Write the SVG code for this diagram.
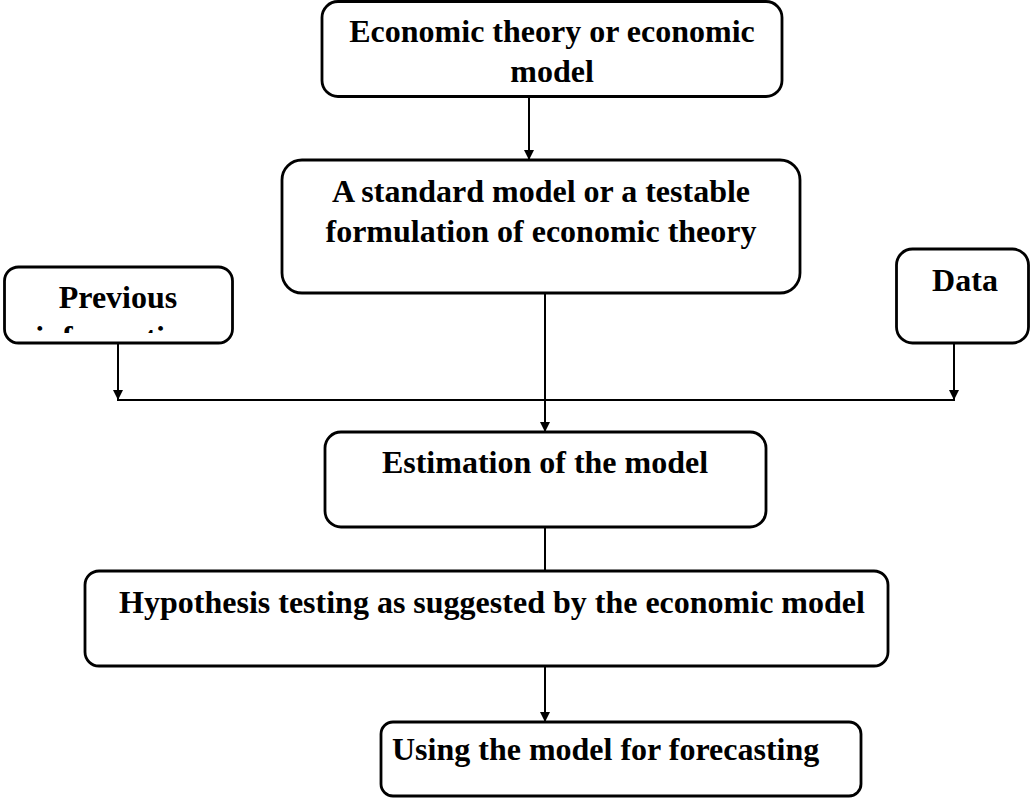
<svg xmlns="http://www.w3.org/2000/svg" width="1030" height="798" viewBox="0 0 1030 798">
<style>
.box{fill:#fff;stroke:#000;stroke-width:2.8}
.t{font-family:"Liberation Serif","Times New Roman",serif;font-weight:bold;font-size:32px;fill:#000}
.c{fill:none;stroke:#000;stroke-width:2}
</style>
<defs>
<marker id="ah" viewBox="0 0 10 10" refX="10" refY="5" markerWidth="10" markerHeight="10" markerUnits="userSpaceOnUse" orient="auto">
<path d="M0,0 L10,5 L0,10 Z" fill="#000"/>
</marker>
<clipPath id="clipPrev"><rect x="4" y="267" width="228" height="66"/></clipPath>
</defs>
<rect width="1030" height="798" fill="#fff"/>
<g id="connectors">
<line class="c" x1="529" y1="97" x2="529" y2="160" marker-end="url(#ah)"/>
<line class="c" x1="545" y1="293" x2="545" y2="432" marker-end="url(#ah)"/>
<line class="c" x1="118" y1="343" x2="118" y2="400" marker-end="url(#ah)"/>
<line class="c" x1="954" y1="343" x2="954" y2="400" marker-end="url(#ah)"/>
<line class="c" x1="117" y1="400" x2="955" y2="400" stroke-width="2.5"/>
<line class="c" x1="545" y1="527" x2="545" y2="571"/>
<line class="c" x1="545" y1="666" x2="545" y2="722" marker-end="url(#ah)"/>
</g>
<g id="node-theory">
<rect class="box" x="322" y="1.5" width="460" height="95" rx="16"/>
<text class="t" x="552" y="42" text-anchor="middle">Economic theory or economic</text>
<text class="t" x="552" y="82" text-anchor="middle">model</text>
</g>
<g id="node-standard">
<rect class="box" x="282" y="160" width="518" height="133" rx="20"/>
<text class="t" x="541" y="202" text-anchor="middle">A standard model or a testable</text>
<text class="t" x="541" y="242" text-anchor="middle">formulation of economic theory</text>
</g>
<g id="node-previous">
<rect class="box" x="4.5" y="267" width="228" height="76" rx="14"/>
<g clip-path="url(#clipPrev)">
<text class="t" x="118" y="308" text-anchor="middle">Previous</text>
<text class="t" x="117" y="348" text-anchor="middle">information</text>
</g>
</g>
<g id="node-data">
<rect class="box" x="896.5" y="249" width="132" height="94" rx="16"/>
<text class="t" x="965" y="291" text-anchor="middle">Data</text>
</g>
<g id="node-estimation">
<rect class="box" x="325" y="432" width="441" height="95" rx="16"/>
<text class="t" x="545" y="473" text-anchor="middle">Estimation of the model</text>
</g>
<g id="node-hypothesis">
<rect class="box" x="85" y="571" width="803" height="95" rx="14"/>
<text class="t" x="492" y="613" text-anchor="middle">Hypothesis testing as suggested by the economic model</text>
</g>
<g id="node-forecast">
<rect class="box" x="381" y="722" width="480" height="74" rx="12"/>
<text class="t" x="392" y="760">Using the model for forecasting</text>
</g>
</svg>
